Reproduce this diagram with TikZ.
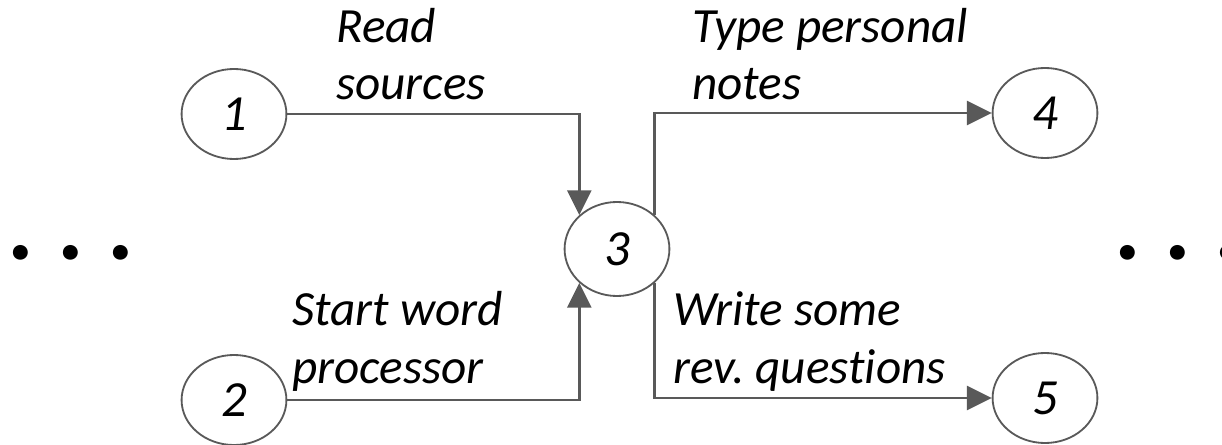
\documentclass[tikz,border=0pt]{standalone}
\usepackage{fontspec}
\setmainfont[Ligatures=NoCommon]{Carlito}
\usetikzlibrary{arrows.meta,shapes.geometric}
\definecolor{linegray}{RGB}{89,89,89}
\newcommand{\dotbox}{\makebox[1.25cm]{.}}
\tikzset{
	stage/.style={ellipse, draw=linegray, line width=1.3pt, minimum width=2.62cm, minimum height=2.25cm, inner sep=0pt, font=\fontsize{36}{40}\selectfont\itshape},
	task/.style={draw=linegray, line width=2pt, -{Triangle[length=0.62cm,width=0.6cm]}},
	tasklabel/.style={anchor=base west, align=left, inner sep=0pt, font=\fontsize{35}{41}\selectfont\itshape},
	moredots/.style={inner sep=0pt, font=\fontsize{71}{71}\selectfont\bfseries}
}

\begin{document}
\begin{tikzpicture}[x=0.025cm, y=-0.025cm]
		%%%%% START %%%%%
		
		\useasboundingbox (0, 0) rectangle (1222, 445);
		
		\node[stage] (n1) at (234, 114) {1};
		\node[stage] (n2) at (234, 400) {2};
		\node[stage, minimum height=2.35cm] (n3) at (617, 249) {3};
		\node[stage] (n4) at (1045, 113) {4};
		\node[stage] (n5) at (1045, 398) {5};
		
		\draw[task] (n1) -| (n3.138);
		\draw[task] (n2) -| (n3.-138);
		\draw[task] (n3.42) |- (n4);
		\draw[task] (n3.-42) |- (n5);
		
		% base anchor sits on the last line
		\node[tasklabel] (read) at (336, 100) {Read\\sources};
		\node[tasklabel] (type) at (692, 100) {Type personal\\notes};
		\node[tasklabel] (start) at (292, 383) {Start word\\processor};
		\node[tasklabel] (write) at (673, 383) {Write some\\rev.\ questions};
		
		\node[moredots] (before) at (71, 253) {\dotbox\dotbox\dotbox};
		\node[moredots] (after) at (1178, 253) {\dotbox\dotbox\dotbox};
		
		%%%%% END %%%%%
	\end{tikzpicture}
\end{document}
